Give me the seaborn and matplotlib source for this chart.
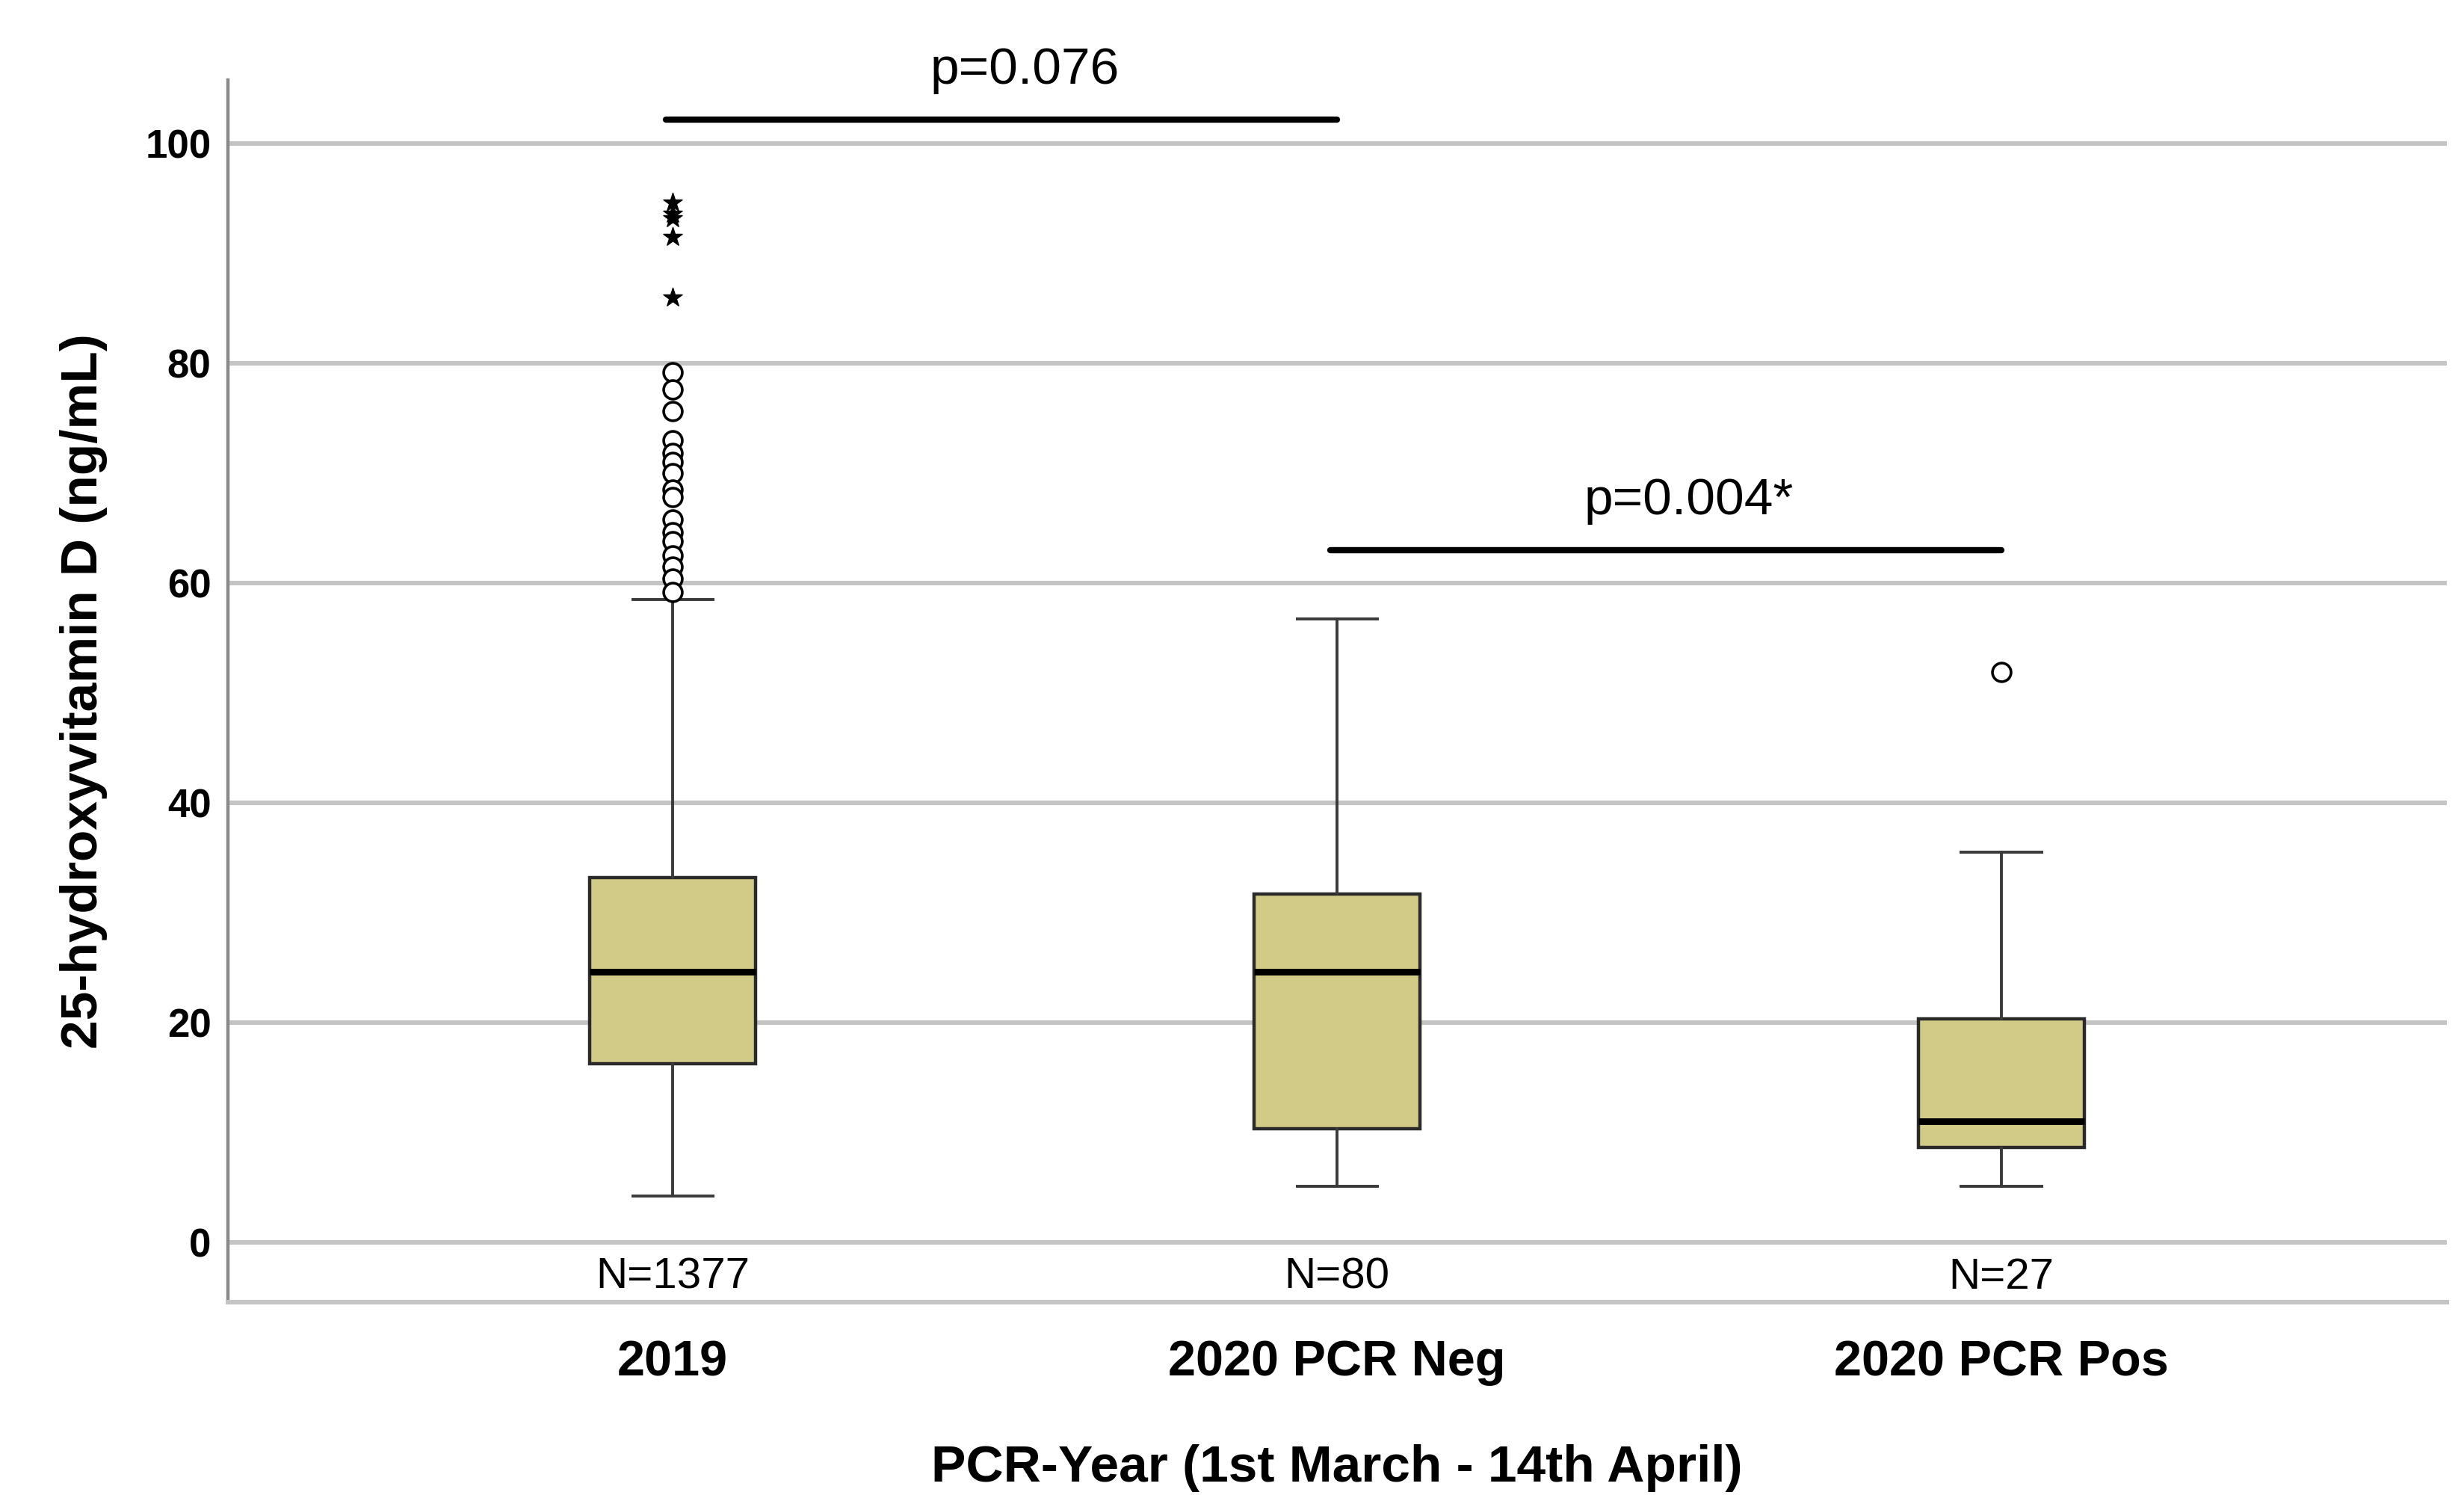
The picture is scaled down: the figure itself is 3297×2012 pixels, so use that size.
import matplotlib
matplotlib.use("Agg")
import matplotlib.pyplot as plt
import seaborn as sns
import pandas as pd

# Datos (ng/mL)
groups = ["2019", "2020 PCR Neg", "2020 PCR Pos"]
n_labels = ["N=1377", "N=80", "N=27"]
q1 = [16.2, 10.3, 8.6]
median = [24.6, 24.6, 11.0]
q3 = [33.2, 31.7, 20.3]
whis_lo = [4.2, 5.1, 5.1]
whis_hi = [58.5, 56.7, 35.5]

# outliers (circulos) y extremos (estrellas)
out_group = [0] * 16 + [2]
out_values = [79.2, 77.6, 75.6, 73.0, 71.8, 71.0, 70.0, 68.5, 67.8,
              65.8, 64.6, 63.8, 62.5, 61.5, 60.4, 59.2, 51.9]
ext_group = [0, 0, 0, 0, 0]
ext_values = [86.0, 91.5, 93.2, 93.6, 94.6]

# comparaciones
pairs = [(0, 1), (1, 2)]
p_texts = ["p=0.076", "p=0.004*"]
p_heights = [102.2, 63.0]

sns.set_style("white")
plt.rcParams["font.family"] = ["Liberation Sans", "DejaVu Sans"]
plt.rcParams["text.color"] = "black"
plt.rcParams["axes.labelcolor"] = "black"
plt.rcParams["xtick.color"] = "black"
plt.rcParams["ytick.color"] = "black"

fig = plt.figure(figsize=(16.485, 10.06), dpi=200)
ax = fig.add_axes([0.0924, 0.134, 0.9005, 0.813])

# lineas de la cuadricula
for v in range(0, 101, 20):
    ax.axhline(v, color="#c4c4c4", lw=2.2, zorder=0)

stats = []
for i, g in enumerate(groups):
    stats.append({"label": g, "q1": q1[i], "med": median[i], "q3": q3[i],
                  "whislo": whis_lo[i], "whishi": whis_hi[i], "fliers": []})

ax.bxp(stats, positions=range(len(groups)), widths=0.25, patch_artist=True,
       showfliers=False,
       boxprops=dict(facecolor="#d2cb88", edgecolor="#2a2a2a", lw=1.6),
       medianprops=dict(color="black", lw=3.2),
       whiskerprops=dict(color="#3a3a3a", lw=1.4),
       capprops=dict(color="#3a3a3a", lw=1.4, solid_capstyle="butt"),
       capwidths=0.125, zorder=2)

df_out = pd.DataFrame({"x": out_group, "y": out_values})
sns.scatterplot(data=df_out, x="x", y="y", ax=ax, marker="o", s=80,
                facecolor="white", edgecolor="black", linewidth=1.3, zorder=3)
df_ext = pd.DataFrame({"x": ext_group, "y": ext_values})
sns.scatterplot(data=df_ext, x="x", y="y", ax=ax, marker="*", s=90,
                color="black", edgecolor="black", linewidth=0.5, zorder=3)

# barras de significancia
for (a, b), txt, h in zip(pairs, p_texts, p_heights):
    ax.plot([a - 0.01, b], [h, h], color="black", lw=3, clip_on=False, zorder=4)
    ax.text((a + b) / 2 + 0.03, h + 2.3, txt, ha="center", va="bottom",
            fontsize=25, clip_on=False)

for i, t in enumerate(n_labels):
    ax.text(i, -3.2, t, ha="center", va="center", fontsize=21)

ax.set_xlim(-0.67, 2.67)
ax.set_ylim(-5.5, 105.8)
ax.set_yticks(range(0, 101, 20))
ax.set_xticks(range(len(groups)))
ax.set_xticklabels(groups, fontsize=24, fontweight="bold")
ax.tick_params(axis="y", labelsize=19, length=0, pad=8)
ax.tick_params(axis="x", length=0, pad=18)
for lbl in ax.get_yticklabels():
    lbl.set_fontweight("bold")

ax.set_xlabel("PCR-Year (1st March - 14th April)", fontsize=25,
              fontweight="bold", labelpad=28)
ax.set_ylabel("25-hydroxyvitamin D (ng/mL)", fontsize=25,
              fontweight="bold", labelpad=18)

sns.despine(ax=ax, top=True, right=True)
ax.spines["left"].set_color("#8a8a8a")
ax.spines["left"].set_linewidth(1.6)
ax.spines["bottom"].set_color("#c4c4c4")
ax.spines["bottom"].set_linewidth(2.2)

fig.savefig("out.png", dpi=200)
